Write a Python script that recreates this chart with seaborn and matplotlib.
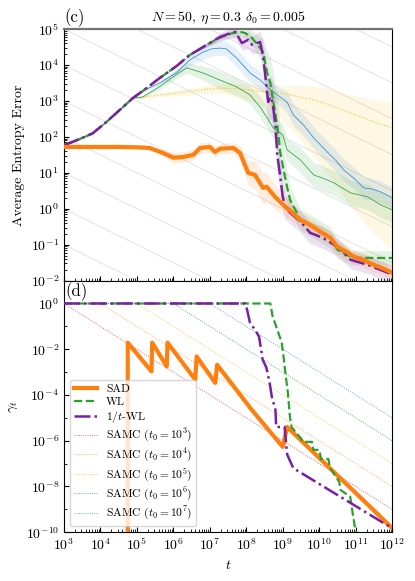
import numpy as np
import matplotlib
matplotlib.use("Agg")
import matplotlib.pyplot as plt
import matplotlib.ticker as mticker
import seaborn as sns

# ---- panel (c): average entropy error, stored as log10(t) / log10(error) ----
early_logt = [3.0, 3.43, 3.79, 4.17, 4.53, 4.89]
early_err = [1.78, 1.94, 2.1, 2.42, 2.75, 3.08]

sad_logt = [3.0, 3.5, 4.0, 4.5, 5.0, 5.35, 5.7, 6.0, 6.27, 6.55, 6.73, 7.0, 7.14, 7.28, 7.65,
            7.83, 8.05, 8.24, 8.46, 8.56, 8.79, 9.01, 9.2, 9.48, 9.75, 10.03, 10.3, 10.5, 10.75,
            10.94, 11.2, 11.49, 11.75, 12.0]
sad_err = [1.72, 1.72, 1.72, 1.72, 1.71, 1.69, 1.56, 1.42, 1.44, 1.50, 1.69, 1.72, 1.58, 1.67, 1.69,
           1.55, 1.00, 0.94, 0.58, 0.61, 0.33, 0.11, -0.05, -0.31, -0.45, -0.64, -0.8, -1.06, -1.2,
           -1.33, -1.42, -1.56, -1.66, -1.78]
sad_band = [0.01, 0.01, 0.01, 0.01, 0.01, 0.03, 0.08, 0.15, 0.15, 0.15, 0.15, 0.15, 0.15, 0.15, 0.15,
            0.2, 0.35, 0.4, 0.45, 0.4, 0.35, 0.3, 0.25, 0.2, 0.2, 0.2, 0.2, 0.2, 0.2,
            0.2, 0.2, 0.2, 0.2, 0.2]

wl_logt = [3.0, 3.43, 3.79, 4.17, 4.53, 4.89, 5.27, 5.63, 6.1, 6.45, 7.0, 7.28, 7.6, 7.83, 7.97,
           8.16, 8.38, 8.46, 8.57, 8.66, 8.74, 8.85, 8.93, 9.0, 9.12, 9.2, 9.48, 9.94, 10.3, 10.5,
           10.9, 11.5, 12.0]
wl_err = [1.78, 1.94, 2.1, 2.42, 2.75, 3.08, 3.36, 3.64, 3.98, 4.28, 4.61, 4.76, 4.88, 4.92, 4.89,
          4.75, 4.47, 4.36, 3.8, 3.5, 2.97, 2.33, 1.58, 1.2, 0.6, 0.25, -0.3, -0.58, -0.8, -1.14,
          -1.36, -1.37, -1.37]
wl_band = [0.02, 0.02, 0.02, 0.02, 0.02, 0.02, 0.02, 0.02, 0.02, 0.02, 0.05, 0.08, 0.1, 0.12, 0.15,
           0.2, 0.3, 0.4, 0.6, 0.7, 0.8, 0.8, 0.7, 0.6, 0.45, 0.35, 0.3, 0.3, 0.3, 0.25,
           0.2, 0.2, 0.2]

twl_logt = [3.0, 3.43, 3.79, 4.17, 4.53, 4.89, 5.27, 5.63, 6.1, 6.45, 7.0, 7.28, 7.6, 7.7, 7.88,
            8.05, 8.16, 8.38, 8.45, 8.52, 8.6, 8.66, 8.72, 8.8, 8.85, 8.93, 9.0, 9.07, 9.2, 9.48,
            9.75, 10.1, 10.5, 10.86, 11.33, 12.0]
twl_err = [1.76, 1.94, 2.1, 2.42, 2.75, 3.08, 3.36, 3.64, 3.98, 4.28, 4.61, 4.78, 4.9, 4.92, 4.61,
           4.7, 4.56, 4.64, 4.3, 3.72, 2.97, 3.11, 2.97, 2.33, 1.5, 0.9, 0.33, 0.05, -0.11, -0.35,
           -0.67, -0.81, -1.06, -1.42, -1.56, -1.83]
twl_band = [0.02, 0.02, 0.02, 0.02, 0.02, 0.02, 0.02, 0.02, 0.02, 0.02, 0.08, 0.12, 0.15, 0.18, 0.2,
            0.25, 0.25, 0.3, 0.4, 0.5, 0.6, 0.6, 0.6, 0.6, 0.5, 0.45, 0.4, 0.35, 0.3, 0.3,
            0.3, 0.3, 0.25, 0.25, 0.25, 0.25]

samc7_logt = early_logt + [5.27, 5.63, 6.1, 6.45, 6.8, 7.05, 7.28, 7.45, 7.74, 8.1, 8.38, 8.66, 8.93,
                           9.12, 9.29, 9.57, 9.85, 10.22, 10.45, 10.67, 10.95, 11.22, 11.45, 11.68, 12.0]
samc7_err = early_err + [3.33, 3.5, 3.8, 4.14, 4.35, 4.45, 4.47, 4.45, 4.19, 3.78, 3.58, 3.31, 3.11,
                         2.97, 2.61, 2.33, 1.97, 1.58, 1.35, 1.08, 0.85, 0.58, 0.55, 0.47, 0.31]
samc7_band = [0.02] * 6 + [0.03, 0.05, 0.1, 0.15, 0.2, 0.2, 0.2, 0.2, 0.25, 0.25, 0.25, 0.25, 0.25,
                           0.3, 0.3, 0.3, 0.3, 0.3, 0.3, 0.3, 0.3, 0.3, 0.3, 0.3, 0.3]

samc6_logt = early_logt + [5.16, 5.63, 6.1, 6.37, 6.81, 7.28, 7.74, 8.1, 8.38, 8.57, 8.74, 9.0, 9.12,
                           9.48, 9.85, 10.1, 10.4, 10.86, 11.33, 11.68, 12.0]
samc6_err = early_err + [3.11, 3.4, 3.75, 3.92, 3.78, 3.58, 3.39, 3.17, 2.83, 2.53, 2.25, 2.06, 1.64,
                         1.36, 0.94, 0.85, 0.72, 0.44, 0.33, 0.11, -0.03]
samc6_band = [0.02] * 6 + [0.03, 0.08, 0.12, 0.15, 0.2, 0.25, 0.25, 0.25, 0.3, 0.3, 0.3, 0.3, 0.3,
                           0.35, 0.35, 0.35, 0.35, 0.35, 0.35, 0.35, 0.35]

samc5_logt = early_logt + [5.2, 5.63, 6.12, 6.7, 7.28, 7.9, 8.46, 8.93, 9.4, 9.85, 10.3, 10.77, 11.1,
                           11.49, 12.0]
samc5_err = early_err + [3.11, 3.17, 3.22, 3.3, 3.36, 3.33, 3.25, 3.22, 3.13, 3.03, 2.88, 2.7, 2.57,
                         2.42, 2.25]
samc5_lo = [0.02] * 6 + [0.03, 0.05, 0.08, 0.1, 0.15, 0.25, 0.4, 0.7, 1.1, 1.6, 2.0, 2.5, 2.8, 3.1, 3.4]
samc5_hi = [0.02] * 6 + [0.03, 0.05, 0.08, 0.1, 0.12, 0.15, 0.2, 0.22, 0.3, 0.38, 0.45, 0.5, 0.55,
                         0.62, 0.7]

# ---- panel (d): gamma_t, stored as log10(t) / log10(gamma) ----
sad_g_logt = [3.0, 4.75, 4.75, 5.4, 5.42, 5.82, 5.84, 6.6, 6.64, 7.15, 7.2, 8.15, 9.0, 9.12, 12.0]
sad_g = [-12, -12, -1.71, -2.97, -1.71, -2.75, -1.71, -3.33, -2.32, -3.47, -2.68, -4.65, -6.27,
         -5.4, -9.82]

wl_g_logt = [3.0, 8.66, 8.72, 8.97, 9.02, 9.07, 9.14, 9.2, 9.24, 9.5, 9.55, 9.8, 9.84, 10.0, 10.05,
             10.25, 10.3, 10.55, 10.58, 10.85, 10.92, 10.98, 11.05, 11.15, 12.0]
wl_g = [0, 0, -0.55, -1.7, -2.3, -3.0, -3.9, -5.0, -5.4, -5.9, -6.05, -6.05, -6.4, -6.4, -6.8,
        -6.8, -7.2, -7.8, -8.15, -8.45, -9.2, -9.8, -10.2, -10.3, -10.3]

twl_g_logt = [3.0, 7.97, 8.02, 8.1, 8.27, 8.35, 8.45, 8.55, 8.64, 8.7, 8.8, 8.82, 9.05, 9.12, 9.29, 12.0]
twl_g = [0, 0, -0.26, -0.83, -1.23, -1.45, -2.46, -2.8, -3.46, -4.08, -4.65, -5.4, -5.4, -6.6, -7.2,
         -9.83]

samc_t0 = [1e3, 1e4, 1e5, 1e6, 1e7]
samc_labels = ["10^3", "10^4", "10^5", "10^6", "10^7"]
samc_colors = ["#ff3b3b", "#ff9a3c", "#f2c431", "#3aa845", "#3b8fd0"]

# guide lines ~ t^(-1/2) in panel (c), one per decade at t = 1e3
guide_levels = list(range(-2, 10))

plt.rcParams.update({
    "font.family": "serif",
    "font.serif": ["cmr10", "DejaVu Serif"],
    "mathtext.fontset": "cm",
    "axes.formatter.use_mathtext": True,
    "axes.unicode_minus": False,
    "font.size": 10,
    "xtick.direction": "in",
    "ytick.direction": "in",
})

c_sad, c_wl, c_twl = "#ff7f0e", "#2ca02c", "#7b1fa2"

fig, (ax1, ax2) = plt.subplots(2, 1, sharex=True, figsize=(4.15, 5.81), dpi=100)
fig.subplots_adjust(left=0.154, right=0.945, top=0.950, bottom=0.084, hspace=0)


def curve(ax, logt, logv, lo, hi, color, ls, lw, z):
    t = 10.0 ** np.array(logt)
    v = np.array(logv, dtype=float)
    ax.fill_between(t, 10 ** (v - np.array(lo)), 10 ** (v + np.array(hi)),
                    color=color, alpha=0.13, lw=0, zorder=z - 1)
    sns.lineplot(x=t, y=10 ** v, ax=ax, color=color, linestyle=ls, lw=lw,
                 sort=False, estimator=None, zorder=z)


# panel (c)
for k in guide_levels:
    ax1.plot([1e3, 1e12], [10.0 ** k, 10.0 ** k * 10 ** -4.5], color="0.9", lw=0.8, zorder=0)

curve(ax1, samc5_logt, samc5_err, samc5_lo, samc5_hi, samc_colors[2], ":", 0.8, 3)
curve(ax1, samc6_logt, samc6_err, samc6_band, samc6_band, samc_colors[3], "-", 0.6, 3)
curve(ax1, samc7_logt, samc7_err, samc7_band, samc7_band, samc_colors[4], "-", 0.6, 3)
curve(ax1, sad_logt, sad_err, sad_band, sad_band, c_sad, "-", 3.0, 6)
curve(ax1, wl_logt, wl_err, wl_band, wl_band, c_wl, "--", 1.6, 5)
curve(ax1, twl_logt, twl_err, twl_band, twl_band, c_twl, "-.", 1.8, 5)

ax1.set_yscale("log")
ax1.set_ylim(1e-2, 1e5)
ax1.set_ylabel("Average Entropy Error")
ax1.set_title(r"$N=50$, $\eta=0.3$ $\delta_0=0.005$", fontsize=10)
ax1.text(0.0, 1.01, "(c)", transform=ax1.transAxes, ha="left", va="bottom", fontsize=12)
ax1.yaxis.set_major_locator(mticker.LogLocator(base=10, numticks=12))
ax1.yaxis.set_minor_locator(mticker.LogLocator(base=10, subs=np.arange(2, 10), numticks=12))
ax1.yaxis.set_minor_formatter(mticker.NullFormatter())
ax1.spines["top"].set_color("0.45")
ax1.spines["top"].set_linewidth(1.6)

# panel (d)
for t0, lab, col in zip(samc_t0, samc_labels, samc_colors):
    sns.lineplot(x=[1e3, t0, 1e12], y=[1.0, 1.0, t0 / 1e12], ax=ax2, color=col, lw=0.6,
                 linestyle=":", sort=False, estimator=None, label=f"SAMC ($t_0={lab}$)", zorder=2)

sns.lineplot(x=10.0 ** np.array(sad_g_logt), y=10.0 ** np.array(sad_g, dtype=float), ax=ax2,
             color=c_sad, lw=3.0, sort=False, estimator=None, label="SAD", zorder=4)
sns.lineplot(x=10.0 ** np.array(wl_g_logt), y=10.0 ** np.array(wl_g, dtype=float), ax=ax2,
             color=c_wl, lw=1.6, linestyle="--", sort=False, estimator=None, label="WL", zorder=5)
sns.lineplot(x=10.0 ** np.array(twl_g_logt), y=10.0 ** np.array(twl_g, dtype=float), ax=ax2,
             color=c_twl, lw=1.8, linestyle="-.", sort=False, estimator=None, label="$1/t$-WL", zorder=5)

ax2.set_yscale("log")
ax2.set_xscale("log")
ax2.set_xlim(1e3, 1e12)
ax2.set_ylim(1e-10, 1e1)
ax2.yaxis.set_major_locator(mticker.FixedLocator([10.0 ** k for k in range(-10, 1, 2)]))
ax2.yaxis.set_minor_locator(mticker.FixedLocator([10.0 ** k for k in range(-9, 2, 2)]))
ax2.yaxis.set_minor_formatter(mticker.NullFormatter())
ax2.xaxis.set_major_locator(mticker.LogLocator(base=10, numticks=12))
ax2.xaxis.set_minor_locator(mticker.LogLocator(base=10, subs=np.arange(2, 10), numticks=12))
ax2.xaxis.set_minor_formatter(mticker.NullFormatter())
ax2.set_xlabel("$t$")
ax2.set_ylabel(r"$\gamma_t$")
ax2.text(0.003, 0.995, "(d)", transform=ax2.transAxes, ha="left", va="top", fontsize=12)

handles, labels = ax2.get_legend_handles_labels()
order = [labels.index(n) for n in ["SAD", "WL", "$1/t$-WL"]] + list(range(5))
ax2.legend([handles[i] for i in order], [labels[i] for i in order], loc="lower left", fontsize=8.3,
           handlelength=2.0, labelspacing=0.2, borderpad=0.35)

for ax in (ax1, ax2):
    ax.tick_params(which="both", top=False, right=False)

fig.savefig("out.png", dpi=100)
